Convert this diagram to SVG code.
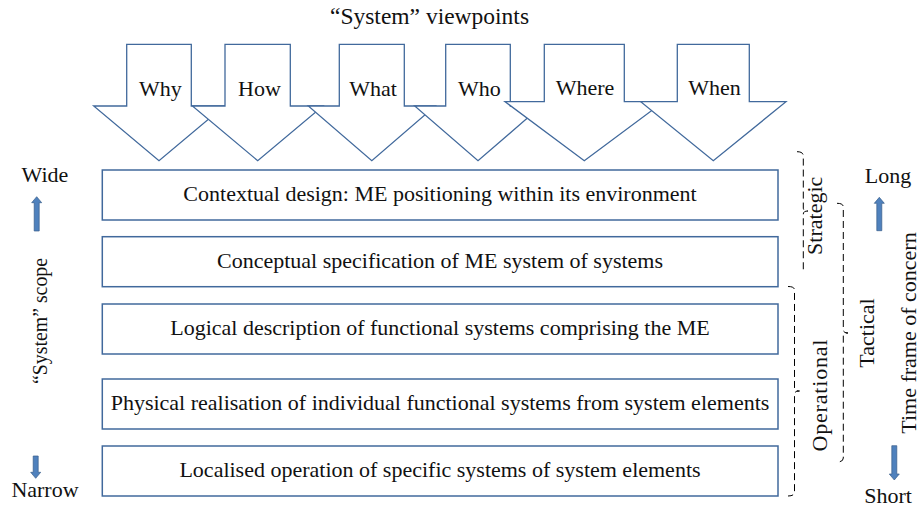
<svg xmlns="http://www.w3.org/2000/svg" width="921" height="508" viewBox="0 0 921 508">
<defs>
<style>
text{font-family:"Liberation Serif","Times New Roman",serif;font-size:22px;fill:#111;}
.c{text-anchor:middle;}
.big{fill:#fff;stroke:#41699C;stroke-width:1.3;stroke-linejoin:miter;}
.box{fill:#fff;stroke:#41699C;stroke-width:1.5;}
.sa{fill:#4F81BD;stroke:#385D8A;stroke-width:0.7;}
.br{fill:none;stroke:#000;stroke-width:1;stroke-dasharray:7,4;}
</style>
</defs>
<rect width="921" height="508" fill="#fff"/>
<text class="c" x="429.5" y="24" style="font-size:23.5px">“System” viewpoints</text>

<g id="viewpoints">
<g id="why"><polygon class="big" points="126.7,44.3 191.3,44.3 191.3,106 224.3,106 159,160.7 93.7,106 126.7,106"/><text class="c" x="160.5" y="95.5">Why</text></g>
<g id="how"><polygon class="big" points="225,44.3 290.3,44.3 290.3,106 323,106 257.7,160.7 192.4,106 225,106"/><text class="c" x="259.5" y="95.5">How</text></g>
<g id="what"><polygon class="big" points="339.3,44.3 404.3,44.3 404.3,106 435.3,106 371.8,160.7 308.3,106 339.3,106"/><text class="c" x="373" y="95.5">What</text></g>
<g id="who"><polygon class="big" points="445.7,44.3 510.3,44.3 510.3,106 541.3,106 478,160.7 414.7,106 445.7,106"/><text class="c" x="479.5" y="95.5">Who</text></g>
<g id="where"><polygon class="big" points="544.3,44.3 624.3,44.3 624.3,101.7 663.6,101.7 584.3,160.7 505,101.7 544.3,101.7"/><text class="c" x="585" y="94.5">Where</text></g>
<g id="when"><polygon class="big" points="677.3,44.3 749.3,44.3 749.3,101.7 786,101.7 713.3,160.7 640.7,101.7 677.3,101.7"/><text class="c" x="714.5" y="94.5">When</text></g>
</g>

<g id="layer1"><rect class="box" x="102.3" y="170" width="675.7" height="50"/><text class="c" x="440" y="201">Contextual design: ME positioning within its environment</text></g>
<g id="layer2"><rect class="box" x="102.3" y="236.7" width="675.7" height="50"/><text class="c" x="440" y="267.5">Conceptual specification of ME system of systems</text></g>
<g id="layer3"><rect class="box" x="102.3" y="304" width="675.7" height="50"/><text class="c" x="440" y="334.8">Logical description of functional systems comprising the ME</text></g>
<g id="layer4"><rect class="box" x="102.3" y="379" width="675.7" height="50"/><text class="c" x="440" y="410">Physical realisation of individual functional systems from system elements</text></g>
<g id="layer5"><rect class="box" x="102.3" y="446" width="675.7" height="50"/><text class="c" x="440" y="477">Localised operation of specific systems of system elements</text></g>

<g id="scope">
<text class="c" x="45" y="182">Wide</text>
<polygon class="sa" points="36.7,196.7 41.7,202.7 39.2,202.7 39.2,231 34.2,231 34.2,202.7 31.7,202.7"/>
<text class="c" transform="translate(46.5,321) rotate(-90)" textLength="126" lengthAdjust="spacingAndGlyphs">“System” scope</text>
<polygon class="sa" points="35.7,478.3 40.7,472.3 38.2,472.3 38.2,456 33.2,456 33.2,472.3 30.7,472.3"/>
<text class="c" x="45" y="497">Narrow</text>
</g>

<g id="timeframe">
<text class="c" x="888" y="183">Long</text>
<polygon class="sa" points="879.3,197.3 884.3,203.3 881.8,203.3 881.8,230.7 876.8,230.7 876.8,203.3 874.3,203.3"/>
<text class="c" transform="translate(915.5,333) rotate(-90)">Time frame of concern</text>
<polygon class="sa" points="894.3,480 899.3,474 896.8,474 896.8,445.7 891.8,445.7 891.8,474 889.3,474"/>
<text class="c" x="888" y="503">Short</text>
</g>

<g id="connectors">
<path class="br" d="M797,151.7 Q803.3,151.7 803.3,156 L803.3,208 Q803.3,211 808,211 Q803.3,211 803.3,214 L803.3,270"/>
<path class="br" d="M837,203.3 Q843.3,203.3 843.3,207 L843.3,330 Q843.3,333 848,333 Q843.3,333 843.3,336 L843.3,458 Q843.3,462 837,462"/>
<path class="br" d="M788,286.5 Q794.5,286.5 794.5,290 L794.5,388 Q794.5,391 799.5,391 Q794.5,391 794.5,394 L794.5,492 Q794.5,496 788,496"/>
</g>
<g id="bracket-labels">
<text class="c" transform="translate(822,215.8) rotate(-90)">Strategic</text>
<text class="c" transform="translate(874.3,333) rotate(-90)">Tactical</text>
<text class="c" transform="translate(826.7,395.5) rotate(-90)" textLength="112" lengthAdjust="spacing">Operational</text>
</g>
</svg>
